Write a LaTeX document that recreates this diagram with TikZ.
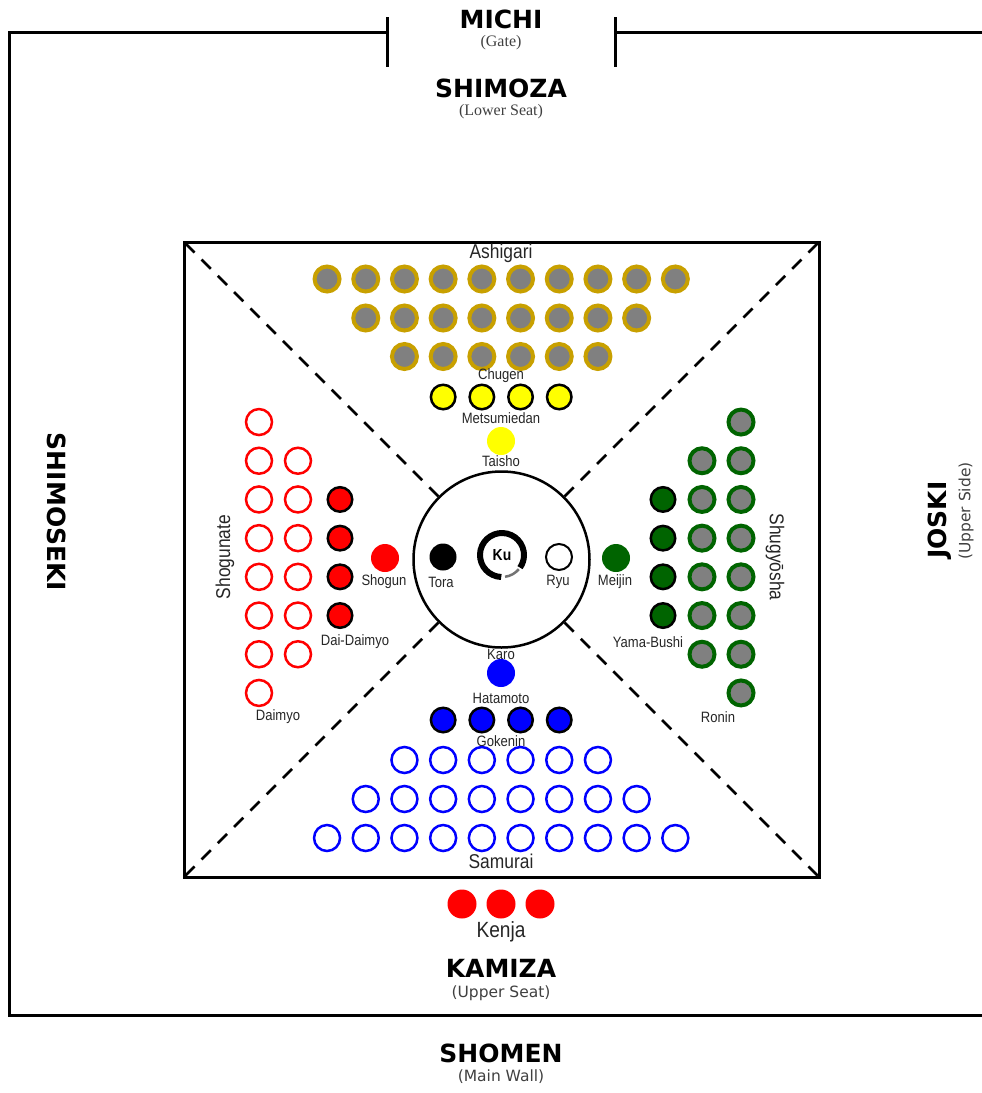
\documentclass[tikz,border=0pt]{standalone}
\usepackage{fontspec}
\setmainfont{Liberation Sans}
\newfontfamily\narrowfont[FakeStretch=0.87]{Liberation Sans}
\newfontfamily\wallfont{DejaVu Sans}
\newfontfamily\notefont{Liberation Serif}
\usetikzlibrary{positioning}
\definecolor{goldc}{HTML}{C8A000}
\definecolor{greyc}{HTML}{808080}
\definecolor{pinec}{HTML}{006400}
\definecolor{yelc}{HTML}{FFFF00}
\definecolor{redc}{HTML}{FF0000}
\definecolor{bluec}{HTML}{0000FF}

\begin{document}
\begin{tikzpicture}[x=1pt,y=-1pt,
    wall/.style={line width=3pt},
    seat/.style={circle,inner sep=0pt,minimum size=26pt},
    ashi/.style={seat,draw=goldc,fill=greyc,line width=4pt,minimum size=25pt},
    ronin/.style={seat,draw=pinec,fill=greyc,line width=4pt,minimum size=25pt},
    lead/.style={seat,draw=black,line width=2.5pt,minimum size=24.5pt},
    open/.style={seat,draw,line width=2.5pt},
    solid/.style={seat,minimum size=28pt},
    lbl/.style={inner sep=0pt,font=\narrowfont\fontsize{15}{15}\selectfont,text=black!85},
    grp/.style={inner sep=0pt,font=\narrowfont\fontsize{20}{20}\selectfont,text=black!85},
    head/.style={inner sep=0pt,font=\wallfont\bfseries\fontsize{25}{25}\selectfont},
    sub/.style={inner sep=0pt,font=\wallfont\fontsize{15.5}{15.5}\selectfont,text=black!75},
    gatenote/.style={inner sep=0pt,font=\notefont\fontsize{16}{16}\selectfont,text=black!75}]
  \useasboundingbox (0,0) rectangle (982,1093);

  % dojo walls and gate
  \draw[wall] (387,32) -- (9,32) -- (9,1015) -- (982,1015);
  \draw[wall] (615,32) -- (982,32);
  \draw[wall] (387,17) -- (387,67);
  \draw[wall] (615,17) -- (615,67);

  % mat and center ring
  \node[draw,line width=3pt,minimum size=635pt,inner sep=0pt] (mat) at (501.5,559.5) {};
  \node[circle,draw,line width=2.5pt,minimum size=176pt,inner sep=0pt] (ring) at (501.5,559.5) {};
  \foreach \c in {north west,north east,south west,south east}
    \draw[line width=2.5pt,dash pattern=on 13pt off 10pt,shorten <=4pt] (mat.\c) -- (ring);

  % enso
  \node[inner sep=0pt,font=\narrowfont\bfseries\fontsize{16}{16}\selectfont] (ku) at (502,555) {Ku};
  \draw[line width=6pt] (ku) ++(92:22) arc[start angle=92,end angle=395,radius=22];
  \draw[line width=2.5pt,black!55] (ku) ++(40:22) arc[start angle=40,end angle=82,radius=22];

  % ashigari
  \node[grp] (ashigari) at (501,253) {Ashigari};
  \foreach \i in {0,...,9}
    \node[ashi] (ash-1-\i) at ({501.2+(\i-4.5)*38.7},279) {};
  \foreach \i in {0,...,7}
    \node[ashi] (ash-2-\i) at ({501.2+(\i-3.5)*38.7},318) {};
  \foreach \i in {0,...,5}
    \node[ashi] (ash-3-\i) at ({501.2+(\i-2.5)*38.7},356.5) {};
  \node[lbl] (chugen) at (501,376) {Chugen};
  \foreach \i in {0,...,3}
    \node[lead,fill=yelc] (met-\i) at ({501.2+(\i-1.5)*38.7},397) {};
  \node[lbl] (metsu) at (501,418) {Metsumiedan};
  \node[solid,fill=yelc] (taisho) at (501,441) {};
  \node[lbl] (taishol) at (501,461) {Taisho};

  % inside the ring
  \node[solid,fill=black,minimum size=27pt] (tora) at (443,557) {};
  \node[lbl] (toral) at (441,582) {Tora};
  \node[seat,draw,line width=2pt,fill=white] (ryu) at (559,557) {};
  \node[lbl] (ryul) at (558,582) {Ryu};

  % shogunate
  \node[solid,fill=redc] (shogun) at (385,558) {};
  \node[lbl] (shogunl) at (384,582) {Shogun};
  \foreach \i in {0,...,3}
    \node[lead,fill=redc] (dai-\i) at (340,{557.5+(\i-1.5)*38.7}) {};
  \node[lbl] (dail) at (355,642) {Dai-Daimyo};
  \foreach \i in {0,...,7}
    \node[open,draw=redc] (dmy-1-\i) at (259,{557.5+(\i-3.5)*38.7}) {};
  \foreach \i in {0,...,5}
    \node[open,draw=redc] (dmy-2-\i) at (298,{557.5+(\i-2.5)*38.7}) {};
  \node[lbl] (daimyo) at (278,717) {Daimyo};
  \node[grp,rotate=90] (shogunate) at (225,557) {Shogunate};

  % shugyosha
  \node[solid,fill=pinec] (meijin) at (616,558) {};
  \node[lbl] (meijinl) at (615,582) {Meijin};
  \foreach \i in {0,...,3}
    \node[lead,fill=pinec] (yama-\i) at (663,{557.5+(\i-1.5)*38.7}) {};
  \node[lbl] (yamal) at (648,642) {Yama-Bushi};
  \foreach \i in {0,...,5}
    \node[ronin] (ron-1-\i) at (702,{557.5+(\i-2.5)*38.7}) {};
  \foreach \i in {0,...,7}
    \node[ronin] (ron-2-\i) at (741,{557.5+(\i-3.5)*38.7}) {};
  \node[lbl] (ronin) at (718,717) {Ronin};
  \node[grp,rotate=-90] (shugyosha) at (775,557) {Shugyōsha};

  % samurai
  \node[lbl] (karo) at (501,654) {Karo};
  \node[solid,fill=bluec] (karoc) at (501,673) {};
  \node[lbl] (hatamoto) at (501,698) {Hatamoto};
  \foreach \i in {0,...,3}
    \node[lead,fill=bluec] (hat-\i) at ({501.2+(\i-1.5)*38.7},720) {};
  \node[lbl] (gokenin) at (501,741) {Gokenin};
  \foreach \i in {0,...,5}
    \node[open,draw=bluec] (sam-1-\i) at ({501.2+(\i-2.5)*38.7},760) {};
  \foreach \i in {0,...,7}
    \node[open,draw=bluec] (sam-2-\i) at ({501.2+(\i-3.5)*38.7},799) {};
  \foreach \i in {0,...,9}
    \node[open,draw=bluec] (sam-3-\i) at ({501.2+(\i-4.5)*38.7},838) {};
  \node[grp] (samurai) at (501,861) {Samurai};

  % kenja
  \foreach \i in {0,...,2}
    \node[solid,fill=redc,minimum size=29pt] (ken-\i) at ({501+(\i-1)*39},904) {};
  \node[grp,font=\narrowfont\fontsize{22}{22}\selectfont] (kenja) at (501,932) {Kenja};

  % wall names
  \node[head] (michi) at (501,19) {MICHI};
  \node[gatenote] (gate) at (501,43) {(Gate)};
  \node[head] (shimoza) at (501,88) {SHIMOZA};
  \node[gatenote] (lower) at (501,112) {(Lower Seat)};
  \node[head] (kamiza) at (501,968) {KAMIZA};
  \node[sub] (upper) at (501,993) {(Upper Seat)};
  \node[head] (shomen) at (501,1053) {SHOMEN};
  \node[sub] (mainwall) at (501,1077) {(Main Wall)};
  \node[head,rotate=-90] (shimoseki) at (57,512) {SHIMOSEKI};
  \node[head,rotate=90] (joski) at (940,520) {JOSKI};
  \node[sub,rotate=90] (upside) at (966,511) {(Upper Side)};
\end{tikzpicture}
\end{document}
